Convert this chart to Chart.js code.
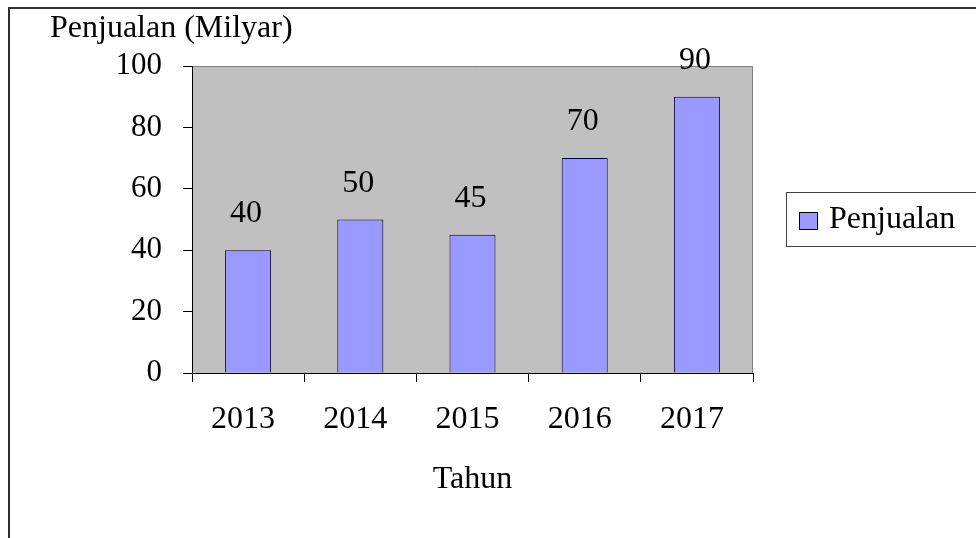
<!DOCTYPE html>
<html>
<head>
<meta charset="utf-8">
<script src="https://cdn.jsdelivr.net/npm/chart.js@4/dist/chart.umd.min.js"></script>
<style>
  html, body { margin: 0; padding: 0; background: #fff; }
  canvas { display: block; }
</style>
</head>
<body>
<canvas id="chart" width="976" height="538"></canvas>
<script>
// data
const years = ['2013', '2014', '2015', '2016', '2017'];
const penjualan = [40, 50, 45, 70, 90];
const yTicks = [0, 20, 40, 60, 80, 100];

const FONT = "'Liberation Serif', 'Times New Roman', serif";

// frame, grey plot background, value labels, legend box, axis caption
const decor = {
  id: 'decor',
  beforeDraw(chart) {
    const { ctx, chartArea: a } = chart;
    ctx.save();
    ctx.fillStyle = '#fff';
    ctx.fillRect(0, 0, chart.width, chart.height);
    ctx.fillStyle = '#c0c0c0';
    ctx.fillRect(a.left, a.top, a.right - a.left, a.bottom - a.top);
    ctx.strokeStyle = '#808080';
    ctx.lineWidth = 1;
    ctx.beginPath();
    ctx.moveTo(a.left, a.top + 0.5);
    ctx.lineTo(a.right - 0.5, a.top + 0.5);
    ctx.lineTo(a.right - 0.5, a.bottom);
    ctx.stroke();
    // outer frame (cut at right/bottom)
    ctx.strokeStyle = '#303030';
    ctx.lineWidth = 2;
    ctx.beginPath();
    ctx.moveTo(9, chart.height + 2);
    ctx.lineTo(9, 8);
    ctx.lineTo(chart.width + 2, 8);
    ctx.stroke();
    ctx.restore();
  },
  afterDraw(chart) {
    const { ctx } = chart;
    ctx.save();
    ctx.font = '32px ' + FONT;
    ctx.fillStyle = '#000';
    // y caption
    ctx.textAlign = 'left';
    ctx.textBaseline = 'alphabetic';
    ctx.fillText('Penjualan (Milyar)', 50, 37);
    // value labels
    ctx.textAlign = 'center';
    const meta = chart.getDatasetMeta(0);
    meta.data.forEach((bar, i) => {
      ctx.fillText(String(chart.data.datasets[0].data[i]), bar.x - 2, bar.y - 28);
    });
    // legend
    const ds = chart.data.datasets[0];
    ctx.fillStyle = '#fff';
    ctx.fillRect(786, 192, 200, 55);
    ctx.strokeStyle = '#404040';
    ctx.lineWidth = 1;
    ctx.strokeRect(786.5, 192.5, 200, 54);
    ctx.fillStyle = ds.backgroundColor;
    ctx.fillRect(799.5, 212.5, 18, 17);
    ctx.strokeStyle = '#000';
    ctx.strokeRect(799.5, 212.5, 18, 17);
    ctx.fillStyle = '#000';
    ctx.textAlign = 'left';
    ctx.fillText(ds.label, 829, 228);
    ctx.restore();
  }
};

new Chart(document.getElementById('chart'), {
  type: 'bar',
  data: {
    labels: years,
    datasets: [{
      label: 'Penjualan',
      data: penjualan,
      backgroundColor: '#9999ff',
      borderColor: '#000033',
      borderWidth: 1,
      categoryPercentage: 1,
      barPercentage: 0.41
    }]
  },
  options: {
    responsive: false,
    animation: false,
    layout: { padding: { left: 0, top: 66, right: 223, bottom: 0 } },
    plugins: {
      legend: { display: false },
      tooltip: { enabled: false }
    },
    scales: {
      x: {
        afterFit: s => { s.height = 165; },
        grid: { drawOnChartArea: false, tickLength: 9, color: '#000', offset: true },
        border: { color: '#000', width: 1 },
        ticks: { color: '#000', font: { family: FONT, size: 32 }, padding: 18, labelOffset: -5 },
        title: {
          display: true, text: 'Tahun', color: '#000',
          font: { family: FONT, size: 32 },
          padding: { top: 0, bottom: 39 }
        }
      },
      y: {
        min: 0,
        max: 100,
        afterFit: s => { s.width = 192; },
        afterBuildTicks: s => { s.ticks = yTicks.map(v => ({ value: v })); },
        grid: { drawOnChartArea: false, tickLength: 9, color: '#000' },
        border: { color: '#000', width: 1 },
        ticks: { color: '#000', font: { family: FONT, size: 31 }, padding: 21 }
      }
    }
  },
  plugins: [decor]
});
</script>
</body>
</html>
